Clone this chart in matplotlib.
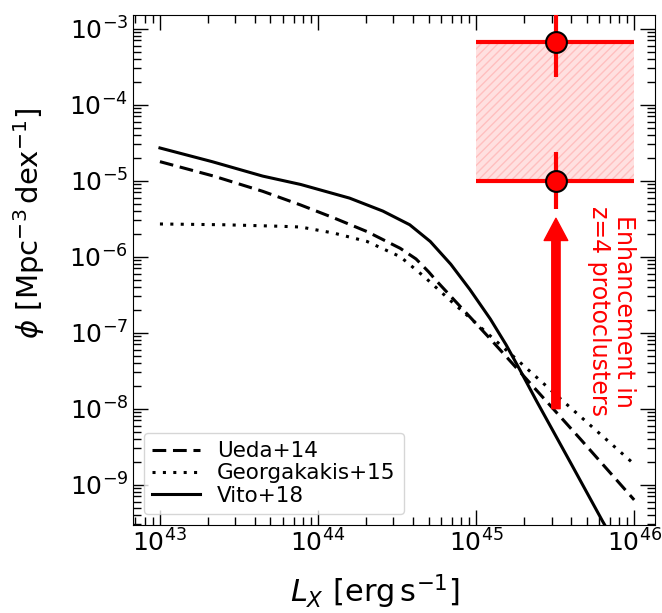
import numpy as np
import matplotlib
matplotlib.use("Agg")
import matplotlib.pyplot as plt
from matplotlib.patches import Rectangle

# X-ray luminosity functions (log10 L_X, log10 phi)
UEDA_LOGL = [43.0, 43.34, 43.65, 43.89, 44.10, 44.31, 44.52, 44.62, 44.70, 44.75, 45.08, 45.34, 45.66, 46.0]
UEDA_LOGPHI = [-4.75, -4.94, -5.14, -5.32, -5.49, -5.67, -5.89, -6.03, -6.20, -6.32, -7.06, -7.66, -8.40, -9.20]

GEORG_LOGL = [43.0, 43.40, 43.76, 43.89, 44.10, 44.31, 44.52, 44.67, 44.85, 45.24, 45.55, 46.0]
GEORG_LOGPHI = [-5.57, -5.58, -5.60, -5.61, -5.69, -5.80, -6.00, -6.26, -6.60, -7.32, -7.90, -8.73]

VITO_LOGL = [43.0, 43.33, 43.65, 43.89, 44.20, 44.41, 44.58, 44.71, 44.84, 44.96, 45.09, 45.19, 45.28,
             45.38, 45.60, 45.80, 46.0]
VITO_LOGPHI = [-4.57, -4.75, -4.94, -5.05, -5.23, -5.40, -5.58, -5.80, -6.10, -6.43, -6.82, -7.16, -7.50,
               -7.89, -8.72, -9.48, -10.2]

# protocluster enhancement points
PC_L = [3.2e45, 3.2e45]
PC_PHI = [6.6e-4, 1.0e-5]
PC_PHI_LO = [2.3e-4, 4.2e-6]
PC_PHI_HI = [1.8e-3, 2.4e-5]
PC_L_LO = 1e45
PC_L_HI = 1e46
ARROW_FROM = 1e-8
ARROW_TO = 3.2e-6


def main():
    fig = plt.figure(figsize=(6.62, 6.13), dpi=100)
    ax = fig.add_axes([0.201, 0.1436, 0.788, 0.832])

    ax.plot(10 ** np.array(UEDA_LOGL), 10 ** np.array(UEDA_LOGPHI), "k--", lw=2.2, label="Ueda+14",
            dashes=(4.5, 2.2))
    ax.plot(10 ** np.array(GEORG_LOGL), 10 ** np.array(GEORG_LOGPHI), "k:", lw=2.2, label="Georgakakis+15",
            dashes=(1, 2.4))
    ax.plot(10 ** np.array(VITO_LOGL), 10 ** np.array(VITO_LOGPHI), "k-", lw=2.2, label="Vito+18")

    ax.set_xscale("log")
    ax.set_yscale("log")
    ax.set_xlim(10 ** 42.83, 10 ** 46.13)
    ax.set_ylim(10 ** -9.53, 10 ** -2.82)

    # shaded box between the two points
    rect = Rectangle((PC_L_LO, PC_PHI[1]), PC_L_HI - PC_L_LO, PC_PHI[0] - PC_PHI[1],
                     facecolor=(1, 0, 0, 0.12), edgecolor=(1, 0.75, 0.75), hatch="////",
                     linewidth=0, zorder=1)
    ax.add_patch(rect)

    x = np.array(PC_L)
    y = np.array(PC_PHI)
    xerr = [x - PC_L_LO, PC_L_HI - x]
    yerr = [y - np.array(PC_PHI_LO), np.array(PC_PHI_HI) - y]
    ax.errorbar(x, y, xerr=xerr, yerr=yerr, fmt="o", color="red", mfc="red", mec="black",
                mew=1.5, ms=15, elinewidth=3, capsize=0, zorder=4)

    ax.annotate("", xy=(PC_L[0], ARROW_TO), xytext=(PC_L[0], ARROW_FROM),
                arrowprops=dict(facecolor="red", edgecolor="red", width=6, headwidth=17,
                                headlength=16, shrink=0))
    ax.text(10 ** 45.855, 10 ** -6.72, "Enhancement in\nz=4 protoclusters", color="red",
            rotation=-90, fontsize=17, ha="center", va="center", linespacing=1.05)

    ax.tick_params(which="both", direction="in", top=True, right=True, labelsize=18)
    ax.tick_params(which="major", length=11, width=1)
    ax.tick_params(which="minor", length=6, width=1)
    ax.set_xticks([1e43, 1e44, 1e45, 1e46])
    ax.set_yticks([1e-9, 1e-8, 1e-7, 1e-6, 1e-5, 1e-4, 1e-3])

    ax.set_xlabel(r"$L_X\ [\mathrm{erg\,s^{-1}}]$", fontsize=22)
    ax.set_ylabel(r"$\phi\ [\mathrm{Mpc^{-3}\,dex^{-1}}]$", fontsize=21)
    ax.xaxis.set_label_coords(0.464, -0.094)
    ax.yaxis.set_label_coords(-0.165, 0.591)

    ax.legend(loc="lower left", fontsize=15.5, handlelength=2.2, borderpad=0.4,
              labelspacing=0.1, handletextpad=0.8)

    fig.savefig("out.png", dpi=100)


if __name__ == "__main__":
    main()
